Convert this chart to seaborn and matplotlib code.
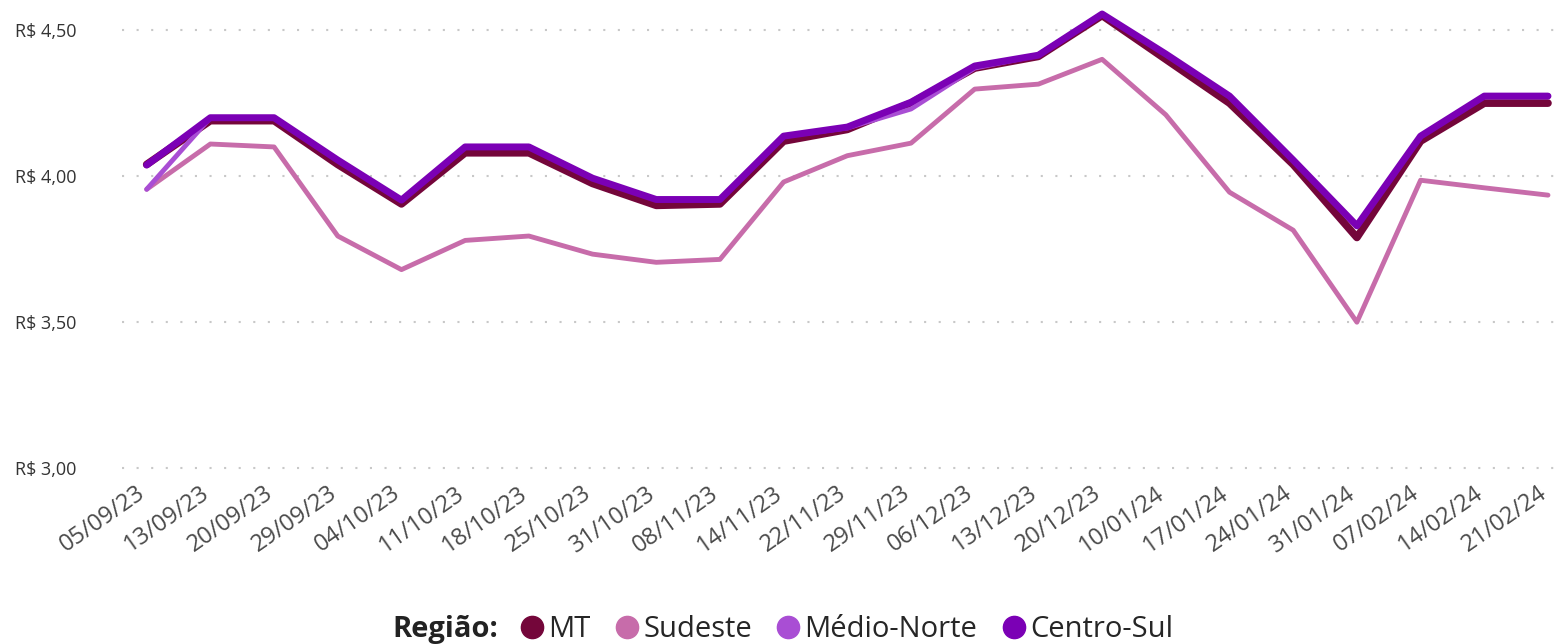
import pandas as pd
import seaborn as sns
import matplotlib.pyplot as plt
from matplotlib.lines import Line2D

datas = ["05/09/23", "13/09/23", "20/09/23", "29/09/23", "04/10/23", "11/10/23",
         "18/10/23", "25/10/23", "31/10/23", "08/11/23", "14/11/23", "22/11/23",
         "29/11/23", "06/12/23", "13/12/23", "20/12/23", "10/01/24", "17/01/24",
         "24/01/24", "31/01/24", "07/02/24", "14/02/24", "21/02/24"]

mt = [4.04, 4.19, 4.19, 4.04, 3.905, 4.08, 4.08, 3.975, 3.90, 3.905, 4.12, 4.16,
      4.25, 4.37, 4.41, 4.55, 4.40, 4.25, 4.04, 3.79, 4.12, 4.25, 4.25]
sudeste = [3.955, 4.11, 4.10, 3.795, 3.68, 3.78, 3.795, 3.733, 3.705, 3.715, 3.98, 4.07,
           4.113, 4.298, 4.315, 4.40, 4.21, 3.945, 3.815, 3.50, 3.986, 3.96, 3.935]
medio_norte = [3.955, 4.20, 4.20, 4.055, 3.918, 4.10, 4.10, 3.993, 3.92, 3.92, 4.137, 4.165,
               4.23, 4.37, 4.414, 4.555, 4.418, 4.274, 4.055, 3.83, 4.137, 4.274, 4.274]
centro_sul = [4.038, 4.20, 4.20, 4.055, 3.918, 4.10, 4.10, 3.993, 3.92, 3.92, 4.137, 4.168,
              4.253, 4.377, 4.414, 4.555, 4.418, 4.274, 4.055, 3.83, 4.137, 4.274, 4.274]

regioes = ["MT", "Sudeste", "Médio-Norte", "Centro-Sul"]
cores = {"MT": "#74063A", "Sudeste": "#C76CAA", "Médio-Norte": "#A94ED4", "Centro-Sul": "#7B00B5"}
larguras = {"MT": 5.5, "Sudeste": 3.5, "Médio-Norte": 3.5, "Centro-Sul": 5.0}

df = pd.DataFrame({
    "Data": datas * 4,
    "Preco": mt + sudeste + medio_norte + centro_sul,
    "Região": sum([[r] * len(datas) for r in regioes], []),
})

sns.set_style("white")
plt.rcParams["font.family"] = ["Open Sans", "DejaVu Sans"]

fig = plt.figure(figsize=(15.62, 6.44), dpi=100)
ax = fig.add_axes([0.078, 0.262, 0.922, 0.738])

for r in regioes:
    sns.lineplot(data=df[df["Região"] == r], x="Data", y="Preco", color=cores[r],
                 linewidth=larguras[r], sort=False, ax=ax, legend=False)

ax.set_xlim(-0.39, 22.22)
ax.set_ylim(2.976, 4.603)
ax.set_yticks([3.0, 3.5, 4.0, 4.5])
ax.set_yticklabels(["R$ 3,00", "R$ 3,50", "R$ 4,00", "R$ 4,50"], fontsize=13, color="#333333")
ax.tick_params(axis="y", pad=33, length=0)
ax.tick_params(axis="x", length=0, pad=15)
plt.setp(ax.get_xticklabels(), rotation=35, ha="right", va="baseline",
         rotation_mode="anchor", fontsize=17, color="#4a4a4a")
ax.set_xlabel("")
ax.set_ylabel("")
ax.grid(axis="y", color="#c8c8c8", linestyle=(0, (1, 6)), linewidth=1.5)
ax.grid(axis="x", visible=False)
sns.despine(ax=ax, left=True, bottom=True)

# legenda
handles = [Line2D([], [], marker="o", linestyle="", markersize=16,
                  markerfacecolor=cores[r], markeredgecolor=cores[r]) for r in regioes]
fig.text(0.251, 0.022, "Região:", fontsize=21, fontweight="bold", color="#222222",
         va="center", ha="left")
fig.legend(handles, regioes, loc="center left", bbox_to_anchor=(0.3315, 0.022), ncol=4,
           frameon=False, fontsize=21, handletextpad=0.05, columnspacing=0.75,
           handlelength=1.0, borderaxespad=0, borderpad=0)

fig.savefig("out.png", dpi=100)
